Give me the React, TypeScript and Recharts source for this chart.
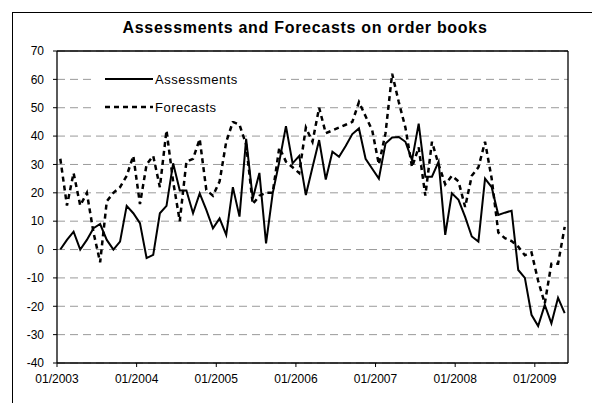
import React from "react";
import { LineChart, Line, XAxis, YAxis, CartesianGrid, ReferenceLine, Legend } from "recharts";

const startYear = 2003;
const monthCount = 77;
const months: string[] = [];
for (let k = 0; k < monthCount; k++) {
  const m = (k % 12) + 1;
  const y = startYear + Math.floor(k / 12);
  months.push(`${m < 10 ? "0" : ""}${m}/${y}`);
}

const assessments = [
  0, 3.4, 6.3, 0, 3.4, 7.5, 9, 3.4, 0, 2.8, 15.4, 12.8,
  9.3, -3, -1.9, 12.8, 15.4, 30.4, 20.8, 20.8, 12.8, 19.8, 14, 7.5,
  11, 5.2, 22, 11.6, 39, 18, 27, 2.2, 19.8, 31, 43.5, 30.4,
  33, 19.2, 29, 38.6, 24.7, 34.5, 32.7, 36.5, 40.7, 42.7, 32, 28.5,
  25, 37.4, 39.5, 39.7, 38, 31.5, 44.4, 25.7, 25.7, 31, 5.2, 19.8,
  17.5, 11.5, 4.6, 2.8, 25, 22, 12.2, 13, 13.7, -7.2, -10, -23,
  -27, -19.5, -26, -17, -22.4,
];

const forecasts = [
  32, 15.5, 27, 15.5, 20, 6, -4.5, 17, 20, 22, 26, 33,
  16, 30, 33, 22, 42, 24, 10, 31, 32, 39, 21, 19,
  24, 38, 45, 44, 37, 16, 19, 20, 20, 36, 31, 29,
  27, 43, 38, 50, 41, 42, 43, 44, 45, 52, 47, 42,
  30, 41, 62, 52, 43, 29, 36, 19, 38, 30, 23, 26,
  24, 15, 26, 29, 38, 25, 6, 4, 3, 1, -2, -1,
  -11, -19, -5, -5, 8,
];

const yTicks = [-40, -30, -20, -10, 0, 10, 20, 30, 40, 50, 60, 70];

const data = months.map((month, i) => ({
  idx: i,
  month,
  Assessments: assessments[i],
  Forecasts: forecasts[i],
}));

// January ticks placed at month boundaries (half a slot before the point)
const xTicks = months
  .map((m, i) => (m.startsWith("01/") ? i - 0.5 : null))
  .filter((v) => v !== null) as number[];
const tickLabel = (v: number) => months[Math.round(v + 0.5)] ?? "";

const FONT = "'Liberation Sans', Arial, sans-serif";

const LegendBox = () => (
  <svg width={185} height={56} style={{ display: "block", background: "#fff" }}>
    <line x1={10} x2={58} y1={14} y2={14} stroke="#000" strokeWidth={2} />
    <text x={60} y={14} dominantBaseline="central" fontSize={13} letterSpacing={0.5} fontFamily={FONT} fill="#000">
      Assessments
    </text>
    <line x1={10} x2={58} y1={42} y2={42} stroke="#000" strokeWidth={2.5} strokeDasharray="5 4" />
    <text x={60} y={42} dominantBaseline="central" fontSize={13} letterSpacing={0.5} fontFamily={FONT} fill="#000">
      Forecasts
    </text>
  </svg>
);

export default function App() {
  return (
    <div style={{ position: "absolute", left: 0, top: 0, width: 592, height: 403, overflow: "hidden", background: "#fff" }}>
      <svg width={592} height={403} style={{ position: "absolute", left: 0, top: 0 }}>
        <rect x={12.5} y={12.5} width={620} height={420} fill="#fff" stroke="#000" strokeWidth={1} />
        <text x={305} y={33} textAnchor="middle" fontSize={16} fontWeight="bold" letterSpacing={0.7} fontFamily={FONT} fill="#000">
          Assessments and Forecasts on order books
        </text>
      </svg>
      <div style={{ position: "absolute", left: 0, top: 0 }}>
        <LineChart width={592} height={403} data={data} margin={{ top: 51, right: 24, left: 0, bottom: 0 }}>
          <CartesianGrid horizontal vertical={false} stroke="#9a9a9a" strokeDasharray="8 5" />
          <XAxis
            dataKey="idx"
            type="number"
            domain={[-0.5, 76.5]}
            ticks={xTicks}
            tickFormatter={tickLabel}
            interval={0}
            height={40}
            tickSize={4}
            tickMargin={7}
            axisLine={{ stroke: "#000", strokeWidth: 1.3 }}
            tickLine={{ stroke: "#000" }}
            tick={{ fill: "#000", fontSize: 12, fontFamily: FONT }}
          />
          <YAxis
            type="number"
            domain={[-40, 70]}
            ticks={yTicks}
            interval={0}
            width={57}
            tickSize={4}
            tickMargin={9}
            axisLine={{ stroke: "#000", strokeWidth: 1.3 }}
            tickLine={{ stroke: "#000" }}
            tick={{ fill: "#000", fontSize: 12, fontFamily: FONT }}
          />
          <ReferenceLine y={70} stroke="#000" strokeWidth={1.3} />
          <ReferenceLine x={76.5} stroke="#000" strokeWidth={1.3} />
          <Legend
            layout="vertical"
            align="center"
            verticalAlign="middle"
            content={() => <LegendBox />}
            wrapperStyle={{ left: 95, top: 65, width: 185, height: 56 }}
          />
          <Line
            type="linear"
            dataKey="Forecasts"
            stroke="#000"
            strokeWidth={2.5}
            strokeDasharray="5 4"
            dot={false}
            isAnimationActive={false}
          />
          <Line
            type="linear"
            dataKey="Assessments"
            stroke="#000"
            strokeWidth={2}
            dot={false}
            isAnimationActive={false}
          />
        </LineChart>
      </div>
    </div>
  );
}
